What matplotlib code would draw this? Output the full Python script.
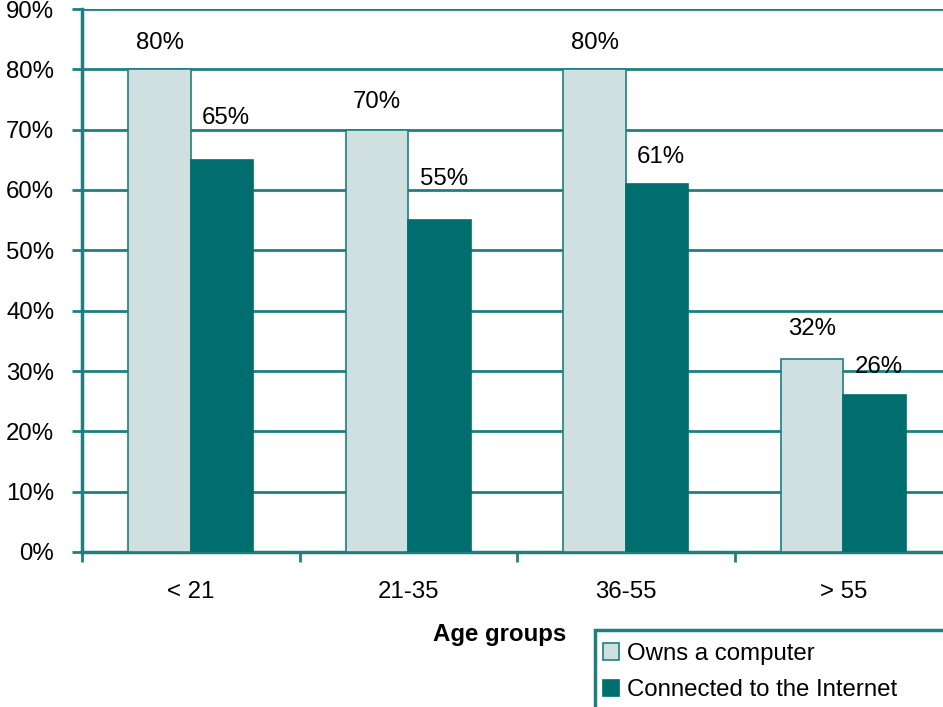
import matplotlib.pyplot as plt
from matplotlib.patches import Rectangle
from matplotlib.ticker import FixedLocator, FuncFormatter

age_groups = ['< 21', '21-35', '36-55', '> 55']
owns_computer = [80, 70, 80, 32]
connected = [65, 55, 61, 26]
series_names = ['Owns a computer', 'Connected to the Internet']

# label heights above the bar tops (percentage points)
owns_label_gap = [4.3, 4.6, 4.3, 5.0]
conn_label_gap = [7.0, 6.8, 4.5, 4.6]

teal = '#1F7F7F'
light = '#D0E0E0'
dark = '#006E6E'
fs = 17.3

plt.rcParams['font.family'] = ['Liberation Sans', 'DejaVu Sans']

fig = plt.figure(figsize=(9.43, 7.07), dpi=100)
ax = fig.add_axes([82 / 943, 1 - 552 / 707, 870 / 943, (552 - 9) / 707])

x = range(len(age_groups))
w = 0.287
ax.bar([i - w / 2 for i in x], owns_computer, width=w, color=light,
       edgecolor=teal, linewidth=1.2, label=series_names[0], zorder=3)
ax.bar([i + w / 2 for i in x], connected, width=w, color=dark,
       edgecolor=dark, linewidth=1.2, label=series_names[1], zorder=3)

for i in x:
    ax.text(i - w / 2, owns_computer[i] + owns_label_gap[i], f'{owns_computer[i]}%',
            ha='center', va='center', fontsize=fs, zorder=4)
    ax.text(i + w / 2 + 0.02, connected[i] + conn_label_gap[i], f'{connected[i]}%',
            ha='center', va='center', fontsize=fs, zorder=4)

ax.set_xlim(-0.5, len(age_groups) - 0.5)
ax.set_ylim(0, 90)
ax.set_yticks(range(0, 91, 10))
ax.yaxis.set_major_formatter(FuncFormatter(lambda v, p: f'{int(v)}%'))
ax.grid(axis='y', color=teal, linewidth=2, zorder=1)

ax.set_xticks(list(x))
ax.set_xticklabels(age_groups)
ax.xaxis.set_minor_locator(FixedLocator([i - 0.5 for i in range(len(age_groups) + 1)]))
ax.tick_params(axis='x', which='major', length=0, pad=21, labelsize=fs)
ax.tick_params(axis='x', which='minor', length=7, width=2, color=teal)
ax.tick_params(axis='y', length=7, width=2, color=teal, labelsize=fs, pad=13)

for side in ['top', 'right']:
    ax.spines[side].set_visible(False)
for side in ['left', 'bottom']:
    ax.spines[side].set_color(teal)
    ax.spines[side].set_linewidth(2.5)

fig.text(500 / 943, 1 - 635 / 707, 'Age groups', ha='center', va='center',
         fontsize=fs, fontweight='bold')

# legend box runs off the lower right corner
fig.patches.append(Rectangle((595 / 943, -0.05), 0.5, 0.05 + 77 / 707,
                             transform=fig.transFigure, facecolor='white',
                             edgecolor=teal, linewidth=2.5, zorder=5))
leg = fig.legend(loc='upper left', bbox_to_anchor=(603 / 943, 1 - 643 / 707),
                 frameon=False, fontsize=fs, handlelength=0.67, handleheight=0.67,
                 handletextpad=0.33, labelspacing=0.6, borderpad=0, borderaxespad=0)
leg.set_zorder(6)

fig.savefig('out.png', dpi=100)
